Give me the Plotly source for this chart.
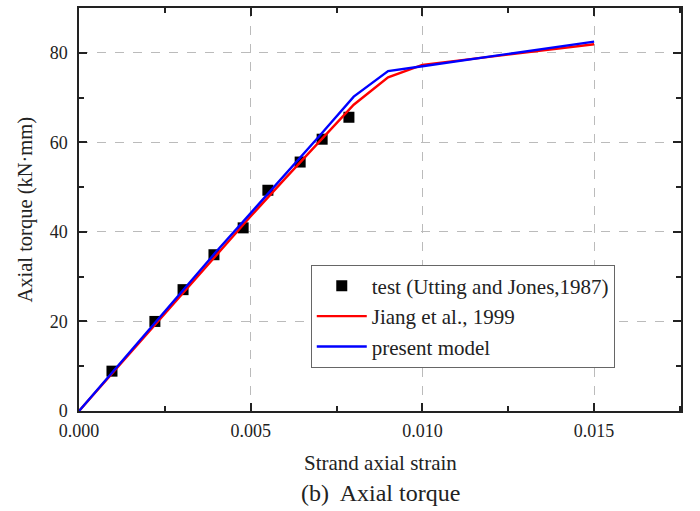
import plotly.graph_objects as go

test_strain = [0.00096, 0.00221, 0.00303, 0.00393, 0.00478, 0.0055, 0.00644, 0.00708, 0.00786]
test_torque = [8.9, 20.0, 27.1, 34.9, 40.9, 49.3, 55.6, 60.7, 65.6]

model_strain = [0, 0.001, 0.002, 0.003, 0.004, 0.005, 0.006, 0.007, 0.008, 0.009, 0.010, 0.015]
jiang_torque = [0, 8.7, 17.5, 26.2, 34.9, 43.5, 51.9, 60.2, 68.4, 74.5, 77.3, 81.9]
present_torque = [0, 8.9, 17.9, 26.8, 35.6, 44.2, 52.7, 61.4, 70.2, 75.9, 77.0, 82.5]

FONT = "Liberation Serif, Times New Roman, DejaVu Serif, serif"
INK = "#222222"

fig = go.Figure()
fig.add_trace(go.Scatter(x=test_strain, y=test_torque, mode="markers",
                         name="test (Utting and Jones,1987)",
                         marker=dict(symbol="square", size=11, color="black")))
fig.add_trace(go.Scatter(x=model_strain, y=jiang_torque, mode="lines",
                         name="Jiang et al., 1999",
                         line=dict(color="#ff0000", width=2.4)))
fig.add_trace(go.Scatter(x=model_strain, y=present_torque, mode="lines",
                         name="present model",
                         line=dict(color="#0000ff", width=2.4)))

axis_common = dict(showline=True, linecolor=INK, linewidth=1.5, mirror="ticks",
                   ticks="inside", ticklen=8, tickwidth=1.5, tickcolor=INK,
                   showgrid=True, gridcolor="#bbbbbb", griddash="dash", gridwidth=1,
                   zeroline=False, tickfont=dict(family=FONT, size=18, color=INK))

fig.update_xaxes(range=[0, 0.01753], tick0=0, dtick=0.005, tickformat=".3f",
                 ticklabelstandoff=3,
                 minor=dict(dtick=0.0025, ticks="inside", ticklen=5, tickcolor=INK, showgrid=False),
                 **axis_common)
fig.update_yaxes(range=[0, 90], tick0=0, dtick=20, ticklabelstandoff=6,
                 minor=dict(dtick=10, ticks="inside", ticklen=5, tickcolor=INK, showgrid=False),
                 **axis_common)

fig.add_annotation(text="Strand axial strain", xref="paper", yref="paper", x=0.5, y=0,
                   yshift=-52, yanchor="middle", showarrow=False,
                   font=dict(family=FONT, size=21, color=INK))
fig.add_annotation(text="Axial torque (kN·mm)", xref="paper", yref="paper", x=0, y=0.5,
                   xshift=-54, xanchor="center", yanchor="middle", textangle=-90, showarrow=False,
                   font=dict(family=FONT, size=20.5, color=INK))
fig.add_annotation(text="(b)  Axial torque", xref="paper", yref="paper", x=0.5, y=0,
                   yshift=-82, yanchor="middle", showarrow=False,
                   font=dict(family=FONT, size=24, color=INK))

fig.update_layout(
    width=700, height=511,
    margin=dict(l=79, r=19, t=6, b=100),
    plot_bgcolor="white", paper_bgcolor="white",
    font=dict(family=FONT, color=INK),
    legend=dict(x=0.385, y=0.363, xanchor="left", yanchor="top",
                bordercolor="#666666", borderwidth=1, bgcolor="white",
                font=dict(family=FONT, size=21, color=INK),
                tracegroupgap=0, itemwidth=50),
    showlegend=True,
)

fig.write_html("out.html")
